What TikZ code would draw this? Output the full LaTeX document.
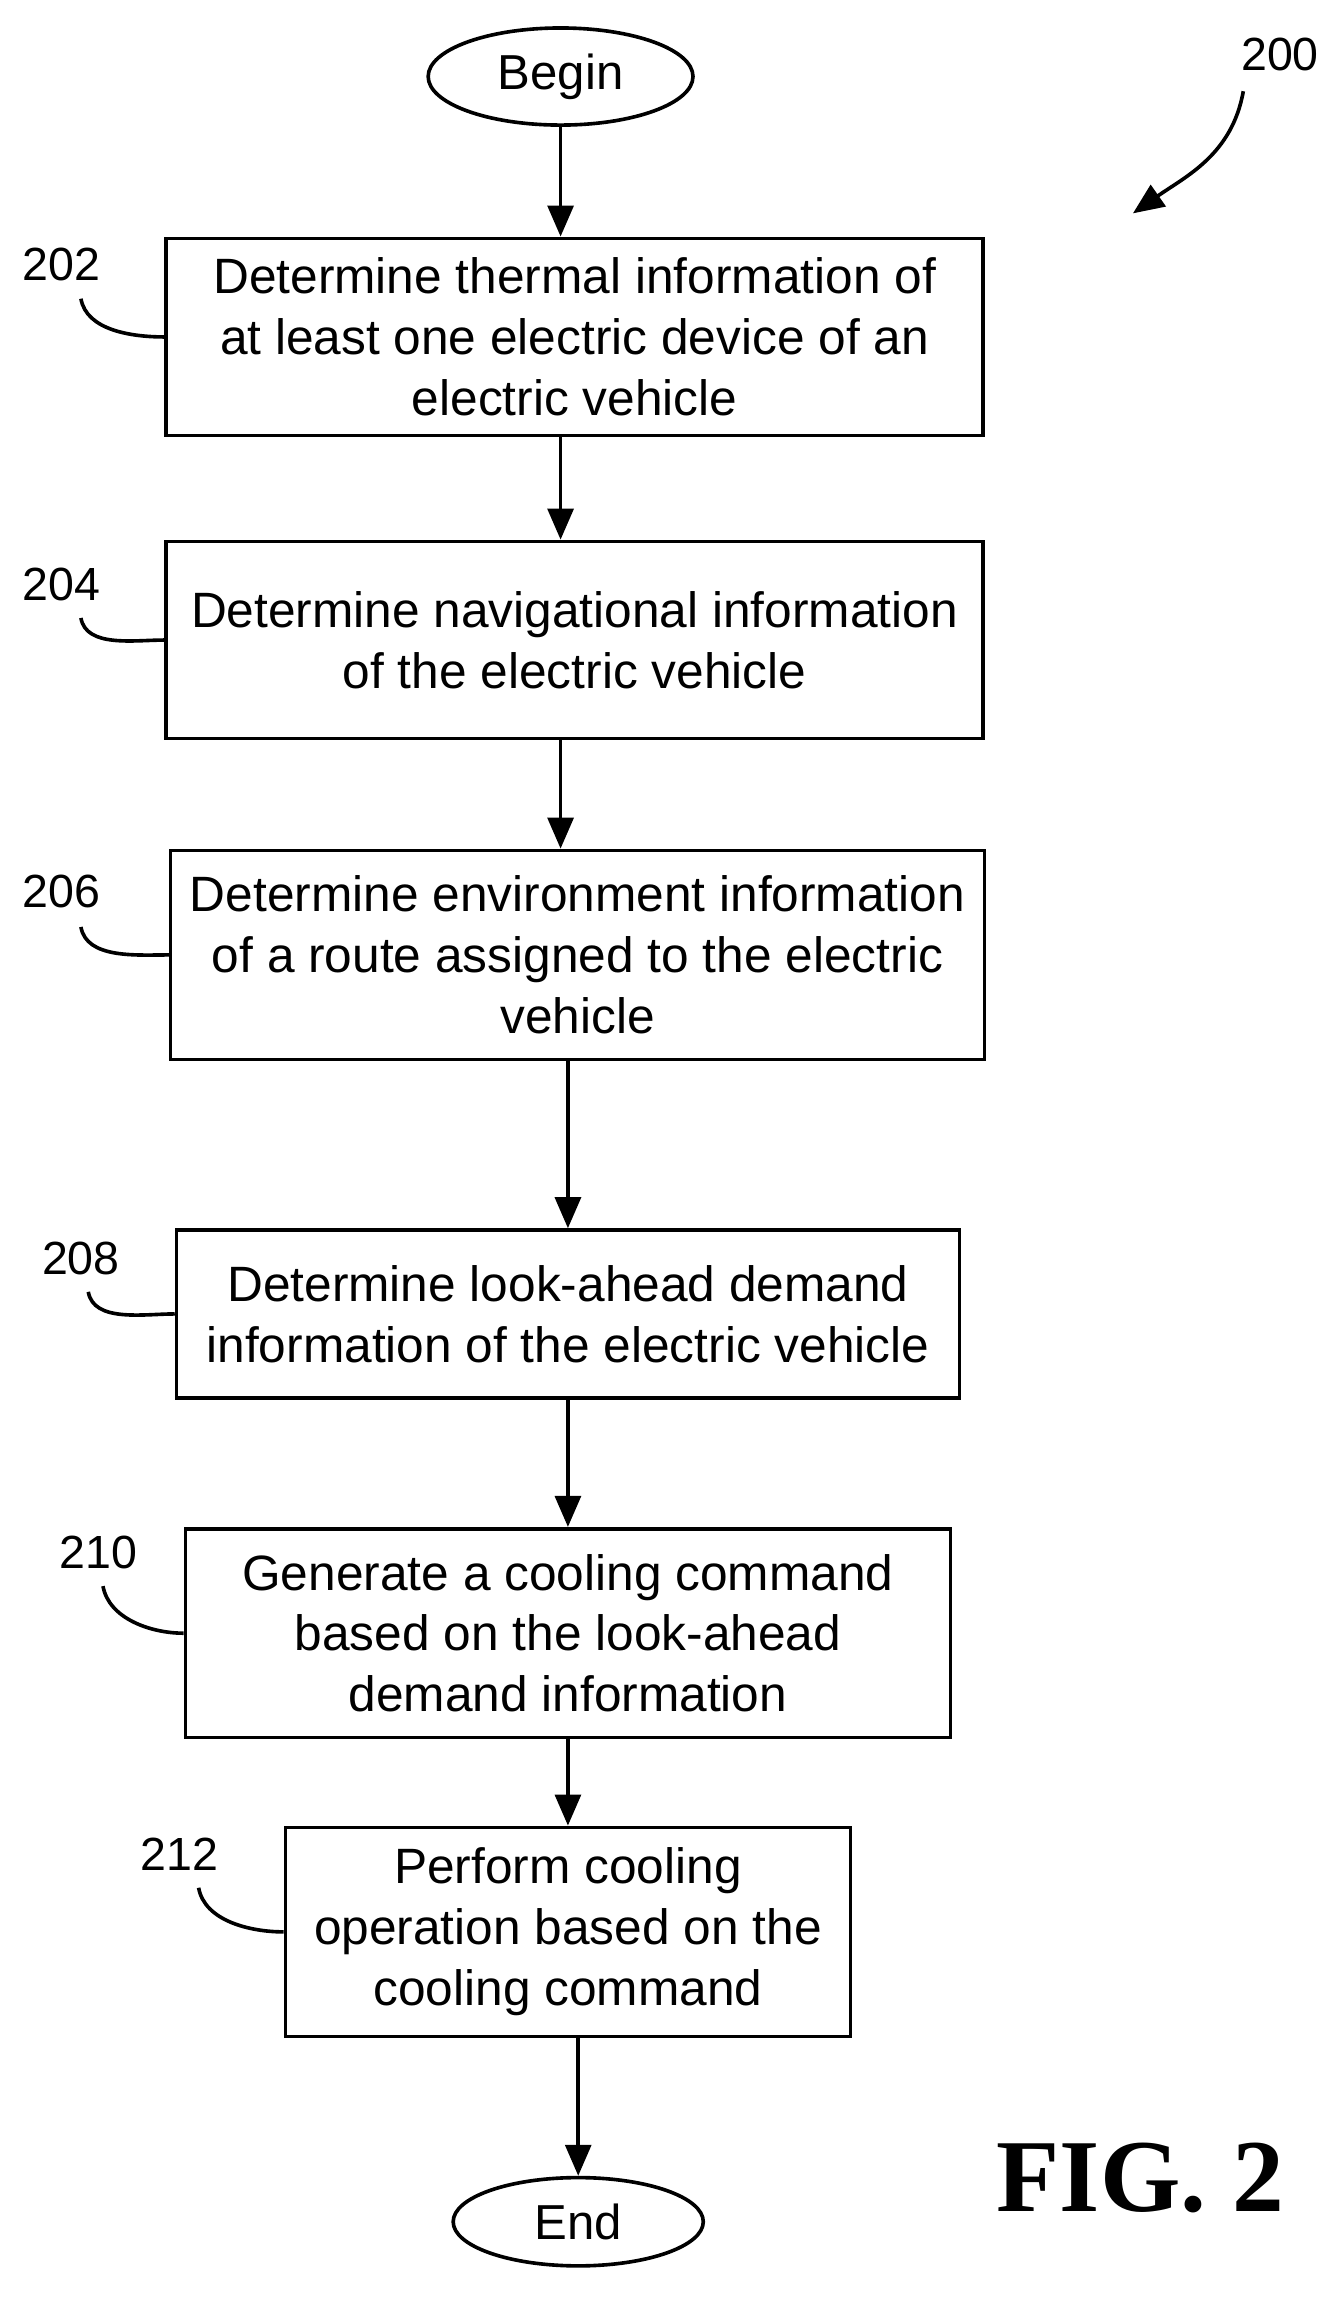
\documentclass[tikz,border=0pt]{standalone}
\usepackage{fontspec}
\setmainfont{Liberation Sans}
\newfontfamily\figfont{Liberation Serif}
\usetikzlibrary{positioning,arrows.meta,shapes.geometric}
\tikzset{
	every path/.style={line width=1.4pt},
	box/.style={draw, rectangle, align=center, inner sep=0pt, font=\fontsize{19.2}{23.5}\selectfont},
	term/.style={draw, ellipse, inner sep=0pt, font=\fontsize{19}{20}\selectfont},
	flow/.style={-{Triangle[length=12pt,width=10pt]}},
	num/.style={font=\fontsize{18}{20}\selectfont},
	tie/.style={out=-80, in=180, looseness=0.9}
}
\begin{document}
\begin{tikzpicture}[x=0.02cm,y=-0.02cm]
	\useasboundingbox (0,0) rectangle (913,1570);
	% terminals
	\node (begin) [term, minimum width=180*0.02cm, minimum height=66*0.02cm] at (381,52) {Begin};
	\node (end) [term, minimum width=170*0.02cm, minimum height=60*0.02cm] at (393,1510) {End};
	
	% steps
	\node (s202) [box, minimum width=555*0.02cm, minimum height=134*0.02cm] at (390.5,229) {Determine thermal information of\\at least one electric device of an\\electric vehicle};
	\node (s204) [box, minimum width=555*0.02cm, minimum height=134*0.02cm] at (390.5,435) {Determine navigational information\\of the electric vehicle};
	\node (s206) [box, minimum width=553*0.02cm, minimum height=142*0.02cm] at (392.5,649) {Determine environment information\\of a route assigned to the electric\\vehicle};
	\node (s208) [box, minimum width=532*0.02cm, minimum height=114*0.02cm] at (386,893) {Determine look-ahead demand\\information of the electric vehicle};
	\node (s210) [box, minimum width=520*0.02cm, minimum height=142*0.02cm] at (386,1110) {Generate a cooling command\\based on the look-ahead\\demand information};
	\node (s212) [box, minimum width=384*0.02cm, minimum height=142*0.02cm] at (386,1313) {Perform cooling\\operation based on the\\cooling command};
	
	% arrows
	\draw[flow] (begin) -- (s202.north -| begin);
	\draw[flow] (s202.south -| begin) -- (s204.north -| begin);
	\draw[flow] (s204.south -| begin) -- (s206.north -| begin);
	\draw[flow] (s206.south -| s208) -- (s208);
	\draw[flow] (s208) -- (s210);
	\draw[flow] (s210) -- (s212);
	\draw[flow] (s212.south -| end) -- (end);
	
	% reference numbers
	\node (n202) [num] at (42,180) {202};
	\node (n204) [num] at (42,397) {204};
	\node (n206) [num] at (42,606) {206};
	\node (n208) [num] at (55,855) {208};
	\node (n210) [num] at (67,1055) {210};
	\node (n212) [num] at (122,1260) {212};
	\draw (55,203) to[tie] (s202.west);
	\draw (55,420) to[tie] (s204.west);
	\draw (55,630) to[tie] (s206.west);
	\draw (60,878) to[tie] (s208.west);
	\draw (70,1078) to[tie] (s210.west);
	\draw (135,1283) to[tie] (s212.west);
	
	\node (n200) [num] at (870,37) {200};
	\draw[flow] (845,62) to[out=-100, in=35] (770,145);
	
	\node (fig) [font=\figfont\bfseries\fontsize{40}{44}\selectfont] at (775,1480) {FIG. 2};
\end{tikzpicture}
\end{document}
